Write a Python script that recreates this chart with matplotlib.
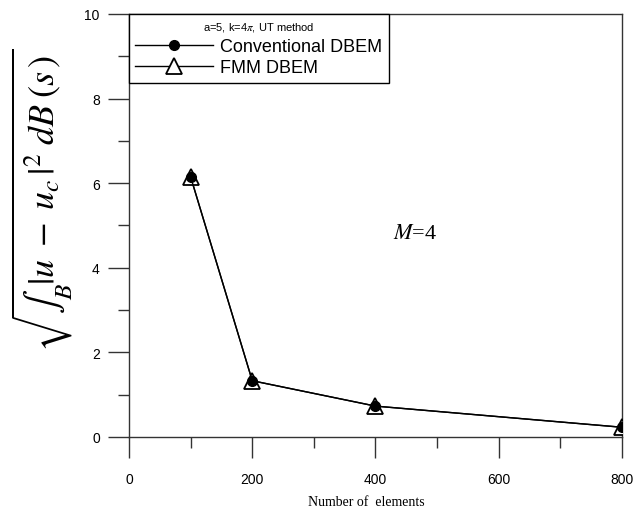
import matplotlib.pyplot as plt
from matplotlib.ticker import MultipleLocator

plt.rcParams['font.family'] = 'Liberation Sans'
plt.rcParams['mathtext.fontset'] = 'stix'

# ------------------------------------------------------------
# Data: error norm vs number of boundary elements
# ------------------------------------------------------------
n_elements = [100, 200, 400, 800]
err_conventional = [6.15, 1.33, 0.73, 0.23]
err_fmm = [6.15, 1.33, 0.73, 0.23]

fig = plt.figure(figsize=(6.33, 5.10), dpi=100)
ax = fig.add_axes([0.2038, 0.1412, 0.7788, 0.8294])

ax.plot(n_elements, err_fmm, '-', marker='^', color='black', lw=1.0,
        ms=11, mfc='white', mec='black', mew=1.3, label='FMM DBEM', zorder=3)
ax.plot(n_elements, err_conventional, '-', marker='o', color='black', lw=1.0,
        ms=7, mfc='black', mec='black', label='Conventional DBEM', zorder=4)

ax.set_xlim(0, 800)
ax.set_ylim(0, 10)
ax.xaxis.set_major_locator(MultipleLocator(200))
ax.xaxis.set_minor_locator(MultipleLocator(100))
ax.yaxis.set_major_locator(MultipleLocator(2))
ax.yaxis.set_minor_locator(MultipleLocator(1))

for s in ax.spines.values():
    s.set_linewidth(1.0)
    s.set_color('#333333')
ax.tick_params(which='major', direction='out', length=15, width=1.0,
               color='#333333', labelsize=10, pad=6, top=False, right=False)
ax.tick_params(which='minor', direction='out', length=8, width=1.0,
               color='#333333', top=False, right=False)
ax.tick_params(axis='x', which='major', pad=10)

handles, labels = ax.get_legend_handles_labels()
leg = ax.legend(handles[::-1], labels[::-1], loc='upper left',
                bbox_to_anchor=(0.0, 1.0), fontsize=13, handlelength=4.3,
                title='a=5, k=4$\\pi$, UT method', title_fontsize=8,
                fancybox=False, framealpha=1, borderaxespad=0,
                borderpad=0.35, labelspacing=0.25, handletextpad=0.4)
leg.get_frame().set_edgecolor('black')
leg.get_frame().set_linewidth(1.0)

ax.text(0.535, 0.48, r'$M$=4', transform=ax.transAxes, fontsize=16,
        family='Liberation Serif', ha='left', va='center')

# axis titles
fig.text(0.578, 1 - 503 / 510, 'Number of  elements', family='Liberation Serif',
         fontsize=10, ha='center', va='center')
fig.text(0.066, 0.608, r'$\sqrt{\int_B |u\; -\; u_c\,|^2\; dB\;(s\,)}$',
         rotation=90, fontsize=26, ha='center', va='center')

fig.savefig('out.png', dpi=100)
